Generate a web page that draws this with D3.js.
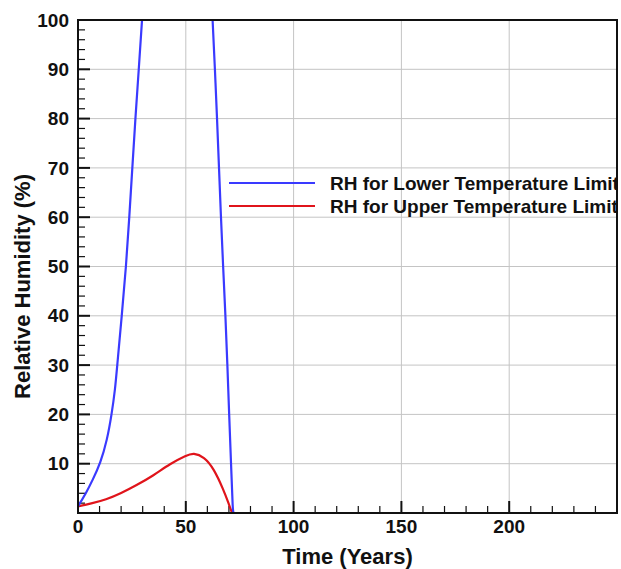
<!DOCTYPE html>
<html lang="en">
<head>
<meta charset="UTF-8">
<title>Relative Humidity vs Time</title>
<script src="https://cdnjs.cloudflare.com/ajax/libs/d3/7.8.5/d3.min.js"></script>
<style>
    body { margin: 0; background: #fff; }
    svg text { font-family: 'Liberation Sans', Arial, sans-serif; font-weight: bold; fill: #111; }
</style>
</head>
<body>
<div id="chart"></div>
<script>
// Lower temperature limit curve (goes off the top of the frame between ~30 and ~62 years)
const lowerYears = [0, 3.7, 6.8, 10.4, 13.5, 15.6, 17.2, 18.2, 20.3, 22.3, 23.8, 25.2, 26.6, 28.2, 29.7, 31.5, 35, 40, 46, 52, 57, 60, 62.5, 63.5, 64.5, 65.4, 66.3, 67.3, 68.4, 69.3, 70.1, 71.0, 71.8, 72.2, 75, 100, 139];
const lowerRH    = [1.35, 4.0, 6.7, 10.1, 14.8, 20, 25, 30, 40, 50, 60, 70, 80, 90, 100, 112, 135, 155, 165, 155, 135, 120, 100, 90, 80, 70, 60, 50, 40, 30, 20, 10, 0, 0, 0, 0, 0];

// Upper temperature limit curve
const upperYears = [0, 6, 13, 20, 27, 35, 42.7, 50.4, 53.5, 58.5, 63, 67.4, 70, 71.4, 71.8, 75, 100, 150, 200, 250];
const upperRH    = [1.35, 1.9, 2.7, 4.0, 5.6, 7.6, 10.0, 11.7, 12.2, 11.4, 9.0, 4.8, 1.8, 0, 0, 0, 0, 0, 0, 0];

const seriesNames = ["RH for Lower Temperature Limit", "RH for Upper Temperature Limit"];
const seriesColors = ["#3a3aff", "#e0141b"];

const xTicks = [0, 50, 100, 150, 200];
const yTicks = [10, 20, 30, 40, 50, 60, 70, 80, 90, 100];

const W = 621, H = 569;
const margin = { top: 20, right: 4, bottom: 56, left: 78 };
const width = W - margin.left - margin.right;
const height = H - margin.top - margin.bottom;

const svg = d3.select("#chart").append("svg")
    .attr("width", W)
    .attr("height", H);

const g = svg.append("g")
    .attr("transform", `translate(${margin.left},${margin.top})`);

const x = d3.scaleLinear().domain([0, 250]).range([0, width]);
const y = d3.scaleLinear().domain([0, 100]).range([height, 0]);

svg.append("defs").append("clipPath")
    .attr("id", "plot-clip")
    .append("rect")
    .attr("width", width)
    .attr("height", height);

// grid
g.append("g")
    .selectAll("line")
    .data(xTicks.filter(d => d > 0))
    .enter().append("line")
    .attr("x1", d => x(d)).attr("x2", d => x(d))
    .attr("y1", 0).attr("y2", height)
    .attr("stroke", "#c4c4c4").attr("stroke-width", 1);

g.append("g")
    .selectAll("line")
    .data(yTicks.filter(d => d < 100))
    .enter().append("line")
    .attr("y1", d => y(d)).attr("y2", d => y(d))
    .attr("x1", 0).attr("x2", width)
    .attr("stroke", "#c4c4c4").attr("stroke-width", 1);

// minor ticks (inward)
const xMinor = d3.range(0, 251, 10).filter(d => d % 50 !== 0);
const yMinor = d3.range(0, 101, 2).filter(d => d % 10 !== 0);

g.append("g").selectAll("line")
    .data(xMinor)
    .enter().append("line")
    .attr("x1", d => x(d)).attr("x2", d => x(d))
    .attr("y1", height).attr("y2", height - 7)
    .attr("stroke", "#111").attr("stroke-width", 1.2);

g.append("g").selectAll("line")
    .data(xTicks.filter(d => d > 0))
    .enter().append("line")
    .attr("x1", d => x(d)).attr("x2", d => x(d))
    .attr("y1", height).attr("y2", height - 12)
    .attr("stroke", "#111").attr("stroke-width", 2);

g.append("g").selectAll("line")
    .data(yMinor)
    .enter().append("line")
    .attr("y1", d => y(d)).attr("y2", d => y(d))
    .attr("x1", 0).attr("x2", 7)
    .attr("stroke", "#111").attr("stroke-width", 1.2);

g.append("g").selectAll("line")
    .data(yTicks)
    .enter().append("line")
    .attr("y1", d => y(d)).attr("y2", d => y(d))
    .attr("x1", 0).attr("x2", 12)
    .attr("stroke", "#111").attr("stroke-width", 2);

// tick labels
g.append("g").selectAll("text")
    .data(xTicks)
    .enter().append("text")
    .attr("x", d => x(d))
    .attr("y", height + 20)
    .attr("text-anchor", "middle")
    .style("font-size", "19px")
    .text(d => d);

g.append("g").selectAll("text")
    .data(yTicks)
    .enter().append("text")
    .attr("x", -9)
    .attr("y", d => y(d))
    .attr("dy", "0.35em")
    .attr("text-anchor", "end")
    .style("font-size", "19px")
    .text(d => d);

// lines
const line = d3.line()
    .x(d => x(d[0]))
    .y(d => y(d[1]))
    .curve(d3.curveBasis);

const plot = g.append("g").attr("clip-path", "url(#plot-clip)");

plot.append("path")
    .datum(d3.zip(upperYears, upperRH))
    .attr("d", line)
    .attr("fill", "none")
    .attr("stroke", seriesColors[1])
    .attr("stroke-width", 2.2);

plot.append("path")
    .datum(d3.zip(lowerYears, lowerRH))
    .attr("d", line)
    .attr("fill", "none")
    .attr("stroke", seriesColors[0])
    .attr("stroke-width", 2.2);

// legend (clipped by the frame on the right)
const legend = plot.append("g")
    .attr("transform", "translate(151,163)");

seriesNames.forEach((name, i) => {
    const row = legend.append("g").attr("transform", `translate(0,${i * 23})`);
    row.append("line")
        .attr("x1", 0).attr("x2", 86)
        .attr("stroke", seriesColors[i])
        .attr("stroke-width", 2.2);
    row.append("text")
        .attr("x", 101)
        .attr("dy", "0.35em")
        .style("font-size", "19px")
        .text(name);
});

// frame
g.append("rect")
    .attr("width", width)
    .attr("height", height)
    .attr("fill", "none")
    .attr("stroke", "#111")
    .attr("stroke-width", 2);

// axis titles
svg.append("text")
    .attr("x", margin.left + width / 2)
    .attr("y", H - 5)
    .attr("text-anchor", "middle")
    .style("font-size", "22px")
    .text("Time (Years)");

svg.append("text")
    .attr("transform", `translate(30,${margin.top + height / 2 + 20}) rotate(-90)`)
    .attr("text-anchor", "middle")
    .style("font-size", "22px")
    .text("Relative Humidity (%)");
</script>
</body>
</html>
